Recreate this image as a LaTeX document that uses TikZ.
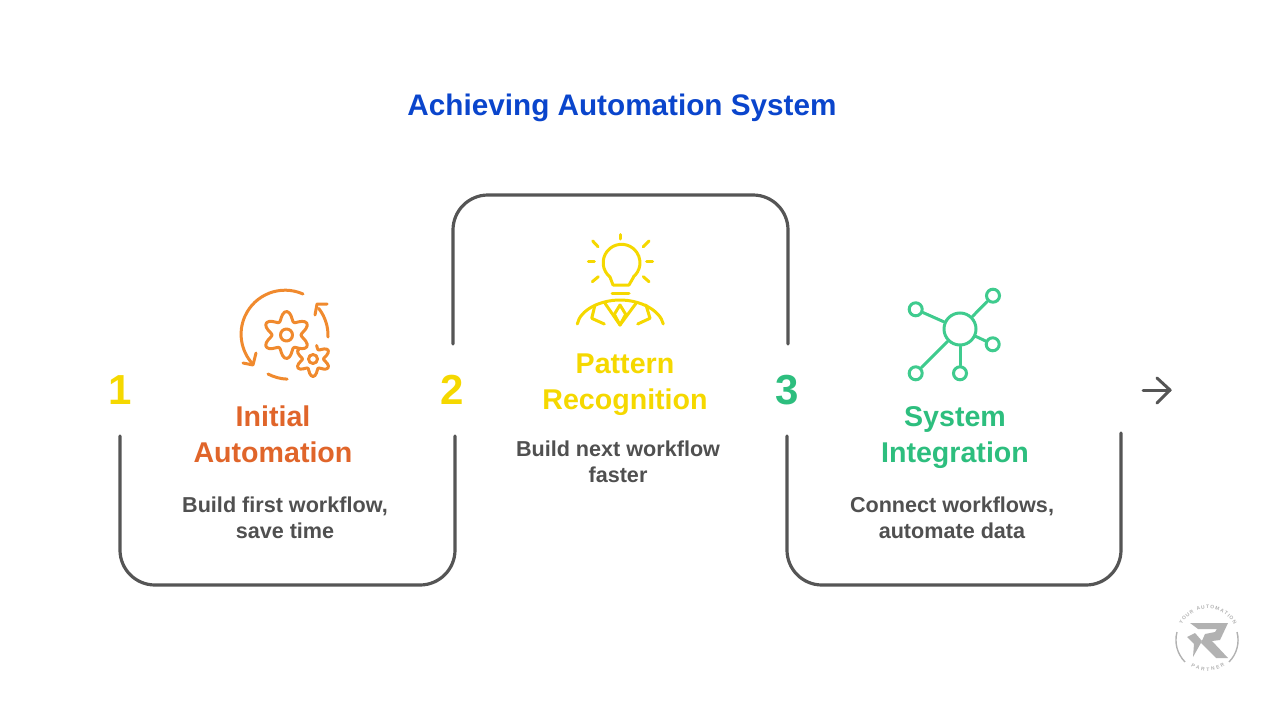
\documentclass[tikz,border=0pt]{standalone}
\usepackage{fontspec}
\setmainfont{Liberation Sans}
\usetikzlibrary{decorations.text}
\definecolor{titleblue}{HTML}{0A45CC}
\definecolor{framegray}{HTML}{555555}
\definecolor{bodygray}{HTML}{505050}
\definecolor{autoorange}{HTML}{E0652A}
\definecolor{iconorange}{HTML}{F08A2E}
\definecolor{idyellow}{HTML}{F5D800}
\definecolor{sysgreen}{HTML}{2DBE7E}
\definecolor{icongreen}{HTML}{3FCB8E}
\definecolor{logogray}{HTML}{B2B2B2}
\begin{document}
\begin{tikzpicture}[x=1pt,y=-1pt]
\tikzstyle{heading}=[align=center,inner sep=0,font=\fontsize{28.6}{36}\selectfont\bfseries]
\tikzstyle{bodytext}=[align=center,inner sep=0,text=bodygray,font=\fontsize{21.6}{26.5}\selectfont\bfseries]
\tikzstyle{number}=[inner sep=0,font=\fontsize{42}{42}\selectfont\bfseries]
\tikzstyle{frame}=[draw=framegray,line width=3.2,rounded corners=35,line cap=round]
\tikzstyle{iconline}=[line width=3,line cap=round,line join=round]
\tikzstyle{hub}=[draw=icongreen,circle,line width=3,inner sep=0,minimum size=32]
\tikzstyle{leaf}=[draw=icongreen,circle,line width=3,inner sep=0,minimum size=13]
\useasboundingbox (0,0) rectangle (1280,720);
\node (title) at (622,108) [inner sep=0,text=titleblue,font=\fontsize{29.7}{34}\selectfont\bfseries] {Achieving Automation System};
\draw[frame] (120,436) -- (120,585) -- (455,585) -- (455,436);
\draw[frame] (453,344) -- (453,195) -- (788,195) -- (788,344);
\draw[frame] (787,436) -- (787,585) -- (1121,585) -- (1121,433);
\node[number,text=idyellow] (one) at (120,390) {1};
\node[number,text=idyellow] (two) at (452,390) {2};
\node[number,text=sysgreen] (three) at (787,390) {3};
\node[heading,text=autoorange] (auto) at (273,434.5) {Initial\\Automation};
\node[heading,text=idyellow] (pattern) at (625,385) {Pattern\\Recognition};
\node[heading,text=sysgreen] (system) at (955,438) {System\\Integration};
\node[bodytext] (autotext) at (285,518) {Build first workflow,\\save time};
\node[bodytext] (patterntext) at (618,462) {Build next workflow\\faster};
\node[bodytext] (systemtext) at (952,518) {Connect workflows,\\automate data};
\begin{scope}[iconline,draw=iconorange]
\draw (286.5,335) circle (6);
\draw plot[smooth cycle,samples=61,domain=0:354,variable=\a] ({286.5+(19+4.5*cos(6*\a+180))*cos(\a)},{335+(19+4.5*cos(6*\a+180))*sin(\a)});
\draw (313,359) circle (4.5);
\draw plot[smooth,samples=45,domain=-75:215,variable=\a] ({313+(14+3.5*cos(6*\a+180))*cos(\a)},{359+(14+3.5*cos(6*\a+180))*sin(\a)});
\draw (303,294) arc[start angle=-66,end angle=-222,radius=44];
\draw (243,363) -- (253,365) -- (256,353);
\draw (268,374) arc[start angle=118,end angle=92,radius=44];
\draw (328,337) arc[start angle=2,end angle=-38,radius=44];
\draw (315,315) -- (317,304) -- (327,304);
\end{scope}
\begin{scope}[iconline,draw=idyellow]
\draw (610,277) arc[start angle=129,end angle=411,radius=18.4];
\draw (610,277) -- (613,285) -- (629,285) -- (633.6,277);
\draw (612,293) -- (629,293);
\draw (620.7,234.5) -- (620.7,239);
\draw (592.7,241) -- (598,246.7);
\draw (588.3,261.3) -- (594.3,261.3);
\draw (592.3,281.7) -- (598.3,276.7);
\draw (643.3,246.7) -- (649,241);
\draw (646.7,261.3) -- (652.7,261.3);
\draw (643.3,276.7) -- (649,281.7);
\draw (577.3,324) .. controls (580,310) and (600,300) .. (620,300) .. controls (640,300) and (660,310) .. (663.3,324);
\draw (595,305) -- (591.7,318.3) -- (604.3,324);
\draw (646,305) -- (650,318.3) -- (637.7,324);
\draw (605,303.3) -- (620,325) -- (636,303.3);
\draw (620,305) -- (614.3,314.3) -- (620,325) -- (625.7,314.3) -- cycle;
\end{scope}
\node[hub] (center) at (960,329) {};
\node[leaf] (lefttop) at (915.7,309.3) {};
\node[leaf] (righttop) at (993,295.7) {};
\node[leaf] (rightlow) at (992.7,344.3) {};
\node[leaf] (bottom) at (960,373.3) {};
\node[leaf] (leftlow) at (915.7,373.3) {};
\draw[iconline,draw=icongreen] (center) -- (lefttop);
\draw[iconline,draw=icongreen] (center) -- (righttop);
\draw[iconline,draw=icongreen] (center) -- (rightlow);
\draw[iconline,draw=icongreen] (center) -- (bottom);
\draw[iconline,draw=icongreen] (center) -- (leftlow);
\coordinate (arrowstart) at (1143,390);
\coordinate (arrowend) at (1170,390);
\draw[line width=3,draw=framegray,line cap=round] (arrowstart) -- (arrowend);
\draw[line width=3,draw=framegray,line cap=round,line join=round] (1157,378) -- (arrowend) -- (1157,403);
\begin{scope}[logogray]
\draw[line width=1.4,draw=logogray] (1177,632) arc[start angle=-165,end angle=-225,radius=31];
\draw[line width=1.4,draw=logogray] (1237,632) arc[start angle=-15,end angle=45,radius=31];
\fill (1190,623) -- (1228,623) -- (1220,640) -- (1212,641) -- (1228,658) -- (1216,658) -- (1201,643) -- (1205,634) -- (1215,632) -- (1217,629) -- (1198,629) -- cycle;
\fill (1195,633) -- (1202,641) -- (1193,657) -- (1194,644) -- (1187,637) -- cycle;
\path[decorate,decoration={text along path,text align={fit to path},text={|\fontsize{5}{6}\selectfont\bfseries\color{logogray}|YOUR AUTOMATION}}] (1181.8,624.6) arc[start angle=-152,end angle=-28,radius=29.5];
\path[decorate,decoration={text along path,text align={fit to path},text={|\fontsize{5}{6}\selectfont\bfseries\color{logogray}|PARTNER}}] (1191,666) arc[start angle=123,end angle=57,radius=31];
\end{scope}
\end{tikzpicture}
\end{document}
